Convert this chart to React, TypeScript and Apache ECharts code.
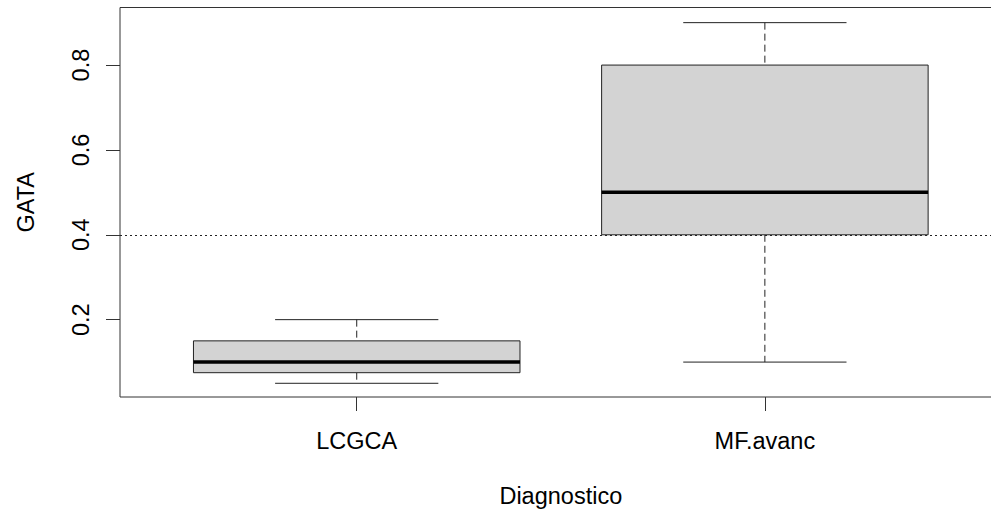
import React, { useEffect, useRef } from "react";
import * as echarts from "echarts";

const categories = ["LCGCA", "MF.avanc"];
const lowWhisker = [0.05, 0.1];
const lowerQuartile = [0.075, 0.4];
const medians = [0.1, 0.5];
const upperQuartile = [0.15, 0.8];
const highWhisker = [0.2, 0.9];
const yTicks = [0.2, 0.4, 0.6, 0.8];
const xTicks = [1, 2];
const referenceLine = 0.4;

const FONT = "'Liberation Sans', Arial, Helvetica, sans-serif";
const FS = 23.5;

export default function App() {
  const ref = useRef<HTMLDivElement>(null);
  useEffect(() => {
    if (!ref.current) return;
    const chart = echarts.init(ref.current, undefined, { renderer: "svg" });
    const data = categories.map((_, i) => [
      i + 1,
      lowWhisker[i],
      lowerQuartile[i],
      medians[i],
      upperQuartile[i],
      highWhisker[i],
    ]);
    const boxHalf = 0.4;
    const capHalf = 0.2;
    const stroke = "#333";
    chart.setOption({
      animation: false,
      backgroundColor: "#fff",
      grid: {
        left: 120,
        right: 8.4,
        top: 7.5,
        bottom: 112.3,
        show: true,
        borderColor: stroke,
        borderWidth: 1,
        backgroundColor: "transparent",
      },
      xAxis: {
        type: "value",
        min: 0.42,
        max: 2.58,
        axisLine: { show: false },
        splitLine: { show: false },
        axisTick: {
          show: true,
          length: 14,
          customValues: xTicks,
          lineStyle: { color: stroke, width: 1 },
        },
        axisLabel: {
          customValues: xTicks,
          margin: 31.5,
          fontSize: FS,
          fontFamily: FONT,
          color: "#000",
          formatter: (v: number) => categories[Math.round(v) - 1] ?? "",
        },
        name: "Diagnostico",
        nameLocation: "middle",
        nameGap: 87,
        nameTextStyle: { fontSize: FS, fontFamily: FONT, color: "#000" },
      },
      yAxis: {
        type: "value",
        min: 0.0177,
        max: 0.9357,
        axisLine: { show: false },
        splitLine: { show: false },
        axisTick: {
          show: true,
          length: 14,
          customValues: yTicks,
          lineStyle: { color: stroke, width: 1 },
        },
        axisLabel: {
          customValues: yTicks,
          rotate: 90,
          margin: 27,
          fontSize: FS,
          fontFamily: FONT,
          color: "#000",
          formatter: (v: number) => v.toFixed(1),
        },
        name: "GATA",
        nameLocation: "middle",
        nameRotate: 90,
        nameGap: 82,
        nameTextStyle: { fontSize: FS, fontFamily: FONT, color: "#000" },
      },
      series: [
        {
          type: "custom",
          data,
          encode: { x: 0, y: [1, 2, 3, 4, 5] },
          renderItem: (params: any, api: any) => {
            const x = api.value(0);
            const lo = api.value(1);
            const q1 = api.value(2);
            const md = api.value(3);
            const q3 = api.value(4);
            const hi = api.value(5);
            const pTL = api.coord([x - boxHalf, q3]);
            const pBR = api.coord([x + boxHalf, q1]);
            const pMidL = api.coord([x - boxHalf, md]);
            const pMidR = api.coord([x + boxHalf, md]);
            const pc = api.coord([x, hi]);
            const pcLo = api.coord([x, lo]);
            const pQ3 = api.coord([x, q3]);
            const pQ1 = api.coord([x, q1]);
            const capL = api.coord([x - capHalf, hi]);
            const capR = api.coord([x + capHalf, hi]);
            const capLL = api.coord([x - capHalf, lo]);
            const capLR = api.coord([x + capHalf, lo]);
            const lineStyle = { stroke: "#222", lineWidth: 1 };
            return {
              type: "group",
              children: [
                {
                  type: "line",
                  shape: { x1: pc[0], y1: pc[1], x2: pQ3[0], y2: pQ3[1] },
                  style: { ...lineStyle, lineDash: [7, 4] },
                },
                {
                  type: "line",
                  shape: { x1: pQ1[0], y1: pQ1[1], x2: pcLo[0], y2: pcLo[1] },
                  style: { ...lineStyle, lineDash: [7, 4] },
                },
                {
                  type: "line",
                  shape: { x1: capL[0], y1: capL[1], x2: capR[0], y2: capR[1] },
                  style: lineStyle,
                },
                {
                  type: "line",
                  shape: { x1: capLL[0], y1: capLL[1], x2: capLR[0], y2: capLR[1] },
                  style: lineStyle,
                },
                {
                  type: "rect",
                  shape: {
                    x: pTL[0],
                    y: pTL[1],
                    width: pBR[0] - pTL[0],
                    height: pBR[1] - pTL[1],
                  },
                  style: { fill: "#d3d3d3", stroke: "#222", lineWidth: 1 },
                },
                {
                  type: "line",
                  shape: { x1: pMidL[0], y1: pMidL[1], x2: pMidR[0], y2: pMidR[1] },
                  style: { stroke: "#000", lineWidth: 3.5 },
                },
              ],
            };
          },
          markLine: {
            silent: true,
            symbol: ["none", "none"],
            label: { show: false },
            lineStyle: { color: "#222", type: [2, 3], width: 1 },
            data: [{ yAxis: referenceLine }],
            z: 1,
          },
        },
      ],
    });
    return () => chart.dispose();
  }, []);
  return (
    <div
      style={{
        position: "fixed",
        left: 0,
        top: 0,
        width: 991,
        height: 513,
        overflow: "hidden",
        background: "#fff",
      }}
    >
      <div ref={ref} style={{ width: 1010, height: 513 }} />
    </div>
  );
}
